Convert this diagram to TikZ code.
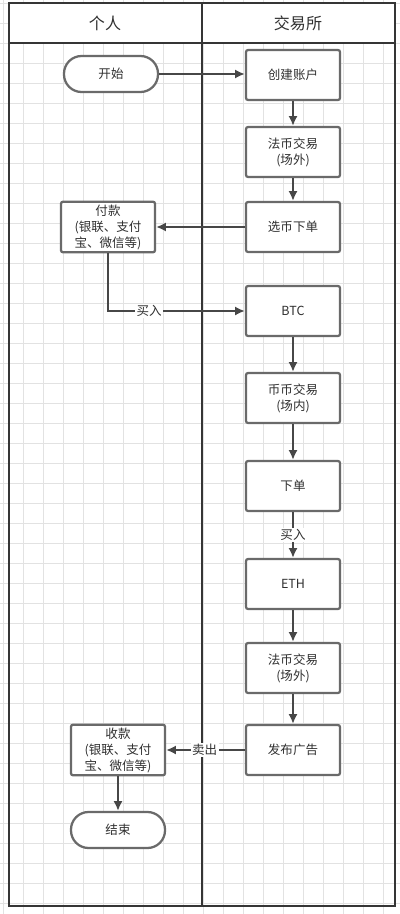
\documentclass[tikz,border=0pt]{standalone}
\usepackage{fontspec}
\setmainfont{Noto Sans CJK SC}
\usetikzlibrary{arrows.meta, positioning}

\definecolor{framegray}{HTML}{353535}
\definecolor{boxgray}{HTML}{6A6A6A}
\definecolor{flowgray}{HTML}{474747}
\definecolor{gridgray}{HTML}{E2E2E2}
\definecolor{textgray}{HTML}{303030}

\tikzset{
    gridline/.style={draw=gridgray, line width=0.6pt},
    lane/.style={draw=framegray, line width=1.5pt},
    box/.style={draw=boxgray, line width=1.6pt, fill=white, rounded corners=1.5pt,
        minimum width=2.35cm, minimum height=1.25cm, inner sep=2pt, align=center,
        text=textgray, font=\fontsize{8.9}{11.4}\selectfont},
    terminal/.style={box, minimum height=0.9cm, rounded corners=0.44cm},
    flow/.style={draw=flowgray, line width=1.5pt, -{Latex[length=7pt, width=6.5pt]}},
    lbl/.style={fill=white, inner sep=1pt, text=textgray, font=\fontsize{8.9}{11.4}\selectfont},
    head/.style={text=textgray, font=\fontsize{11.4}{14}\selectfont}
}

\begin{document}
\begin{tikzpicture}[x=0.025cm, y=-0.025cm]
    \useasboundingbox (0,0) rectangle (400,914);
    \fill[white] (0,0) rectangle (400,914);

    % Grid
    \foreach \gx in {3,23,...,403} \draw[gridline] (\gx,0) -- (\gx,914);
    \foreach \gy in {3,23,...,913} \draw[gridline] (0,\gy) -- (400,\gy);

    % Swimlanes
    \fill[white] (9,3) rectangle (395,43);
    \draw[lane] (9,3) rectangle (395,906);
    \draw[lane] (9,43) -- (395,43);
    \draw[lane] (202,3) -- (202,906);
    \node[head] (person) at (105,23) {个人};
    \node[head] (exchange) at (298,23) {交易所};

    % Steps
    \node[terminal] (start) at (111,74) {开始};
    \node[box] (account) at (293,75) {创建账户};
    \node[box] (fiatA) at (293,152) {法币交易\\(场外)};
    \node[box] (pick) at (293,227) {选币下单};
    \node[box] (pay) at (108,227) {付款\\(银联、支付\\宝、微信等)};
    \node[box] (btc) at (293,311) {BTC};
    \node[box] (coin) at (293,398) {币币交易\\(场内)};
    \node[box] (order) at (293,486) {下单};
    \node[box] (eth) at (293,584) {ETH};
    \node[box] (fiatB) at (293,668) {法币交易\\(场外)};
    \node[box] (advert) at (293,750) {发布广告};
    \node[box] (receive) at (118,750) {收款\\(银联、支付\\宝、微信等)};
    \node[terminal] (finish) at (118,830) {结束};

    % Connectors
    \draw[flow] (start) -- (start -| account.west);
    \draw[flow] (account) -- (fiatA);
    \draw[flow] (fiatA) -- (pick);
    \draw[flow] (pick) -- (pay);
    \draw[flow] (pay.south) |- node[lbl, pos=0.65] {买入} (btc.west);
    \draw[flow] (btc) -- (coin);
    \draw[flow] (coin) -- (order);
    \draw[flow] (order) -- node[lbl] {买入} (eth);
    \draw[flow] (eth) -- (fiatB);
    \draw[flow] (fiatB) -- (advert);
    \draw[flow] (advert) -- node[lbl, pos=0.51] {卖出} (receive);
    \draw[flow] (receive) -- (finish);
\end{tikzpicture}
\end{document}
